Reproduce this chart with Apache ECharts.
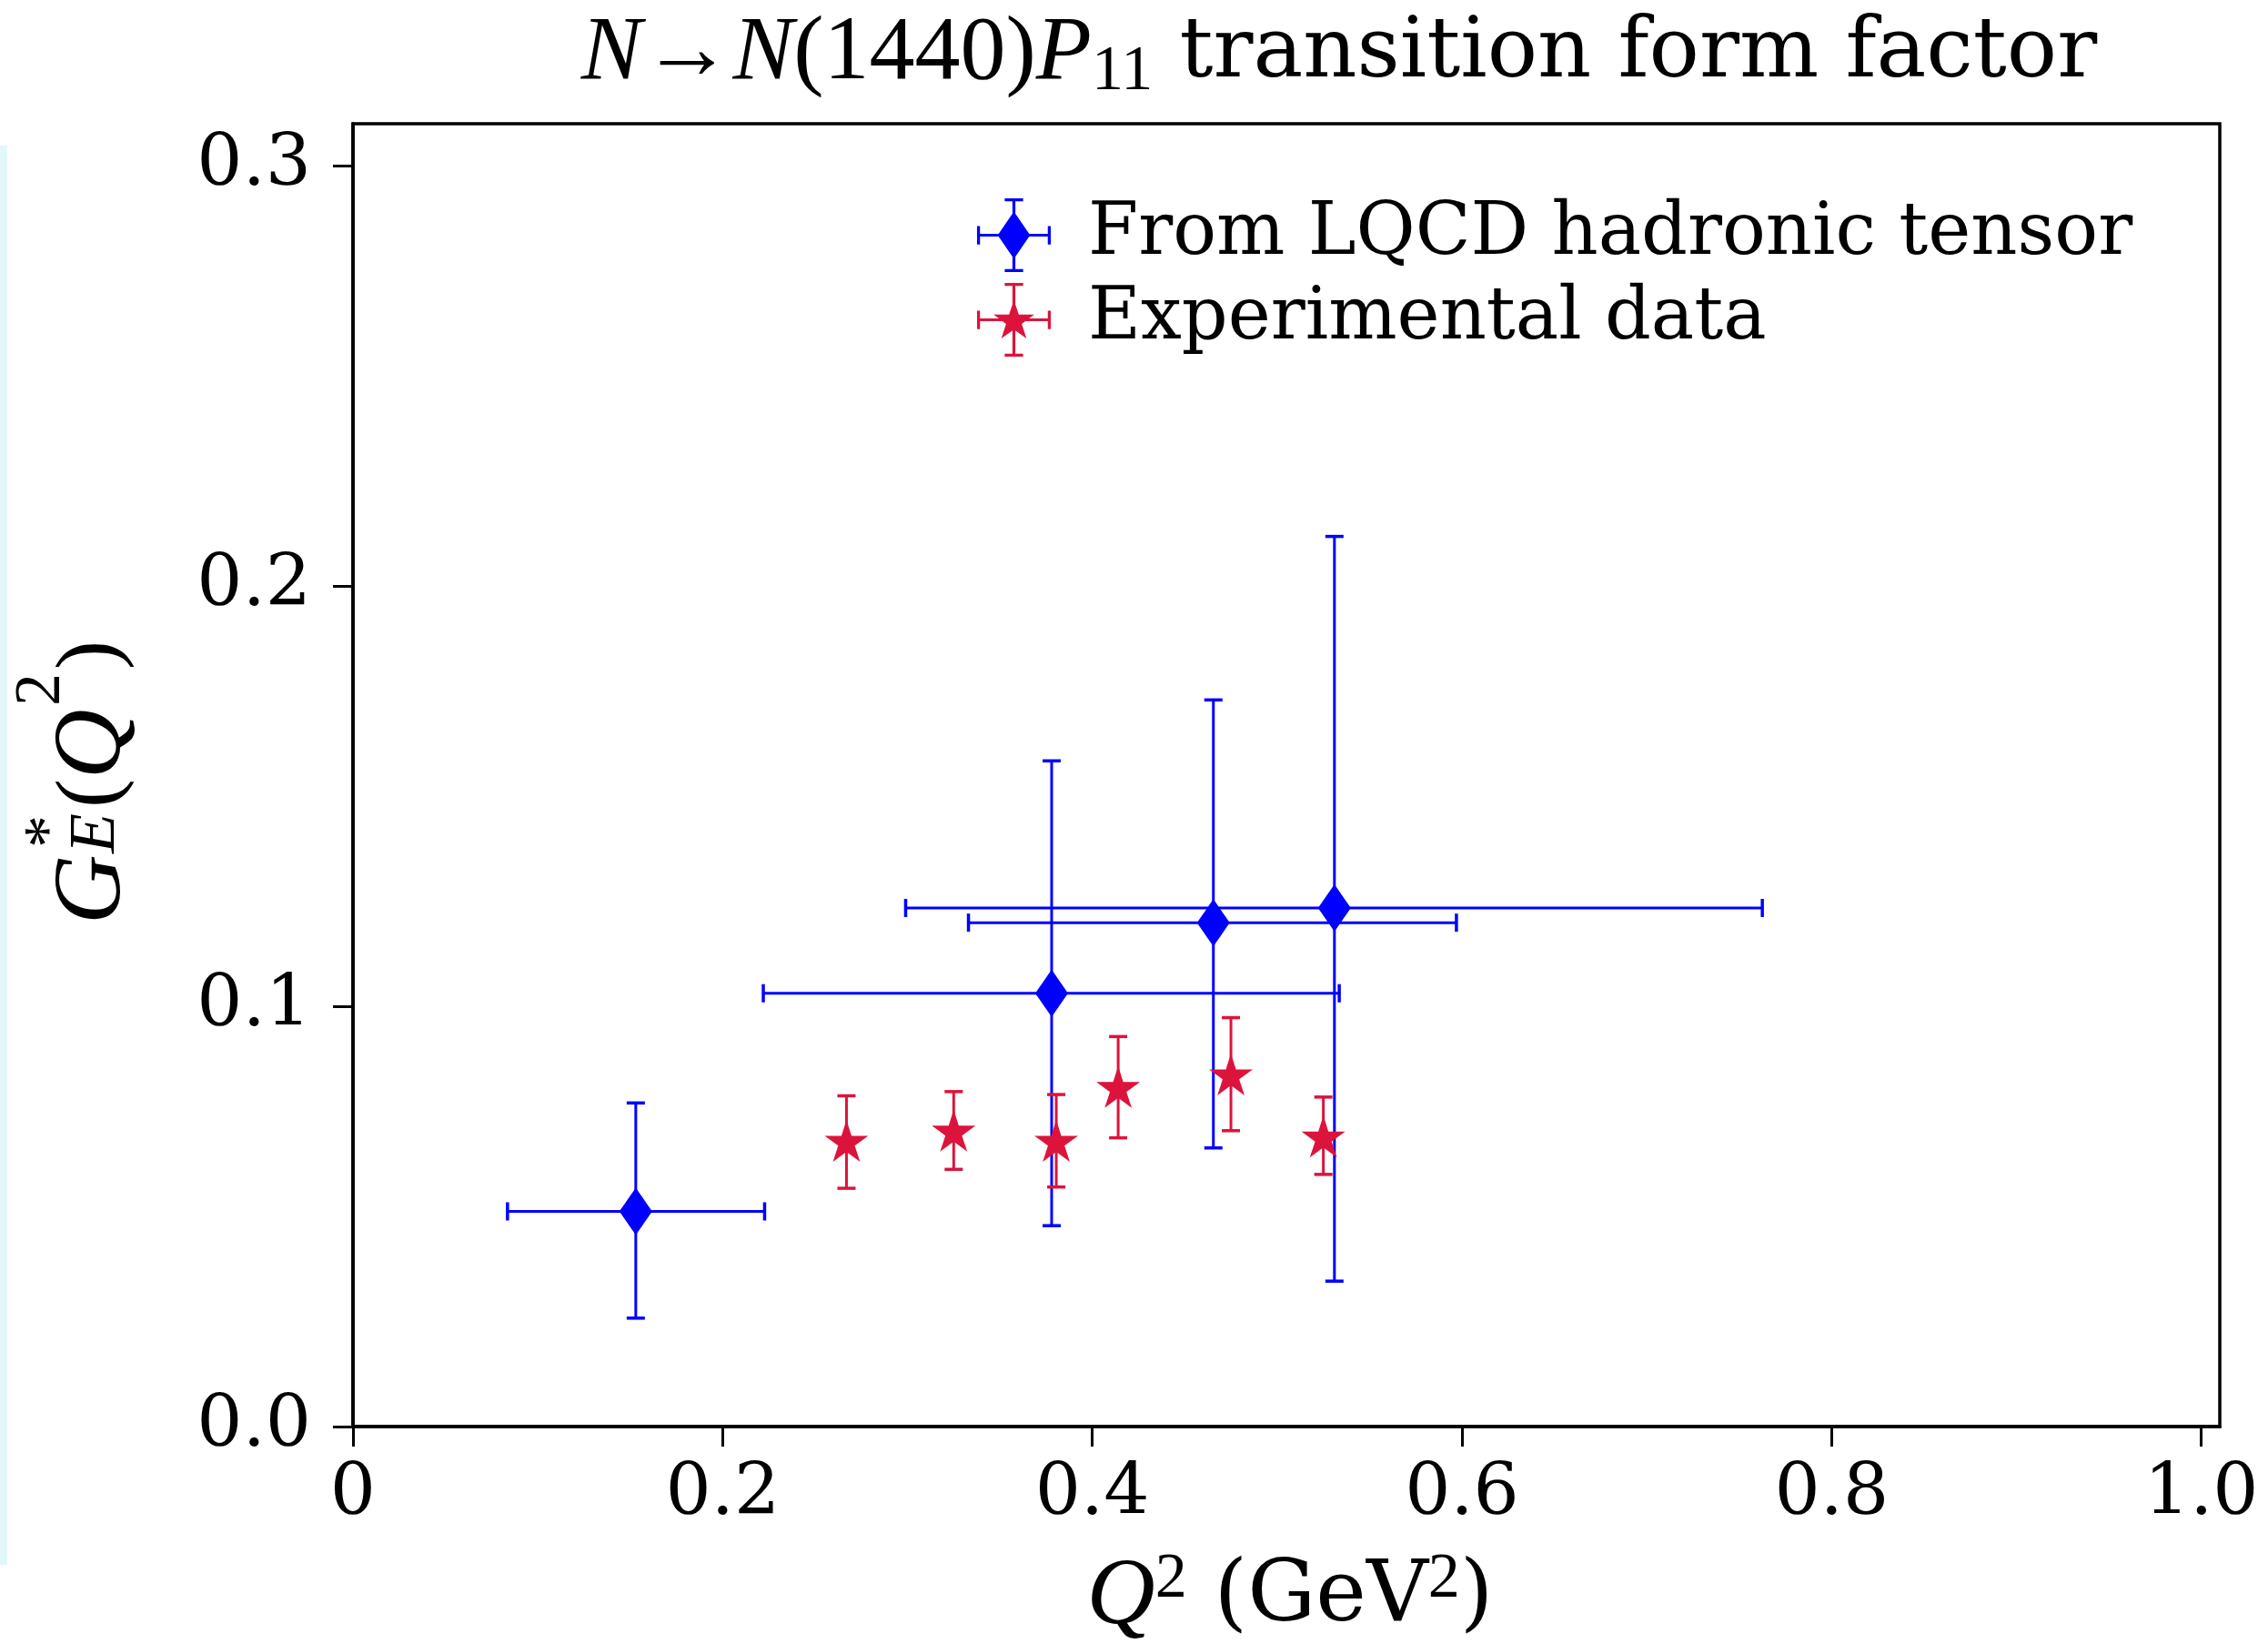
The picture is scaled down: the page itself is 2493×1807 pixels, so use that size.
<!DOCTYPE html>
<html><head><meta charset="utf-8">
<script src="https://cdn.jsdelivr.net/npm/echarts@6/dist/echarts.min.js"></script>
<style>html,body{margin:0;padding:0;background:#fff}#c{width:2493px;height:1807px}</style>
</head><body><div id="c"></div>
<script>
// ---- data ----
const xTicks = [0, 0.2, 0.4, 0.6, 0.8, 1.0];
const xTickLabels = ['0', '0.2', '0.4', '0.6', '0.8', '1.0'];
const yTicks = [0, 0.1, 0.2, 0.3];
const yTickLabels = ['0.0', '0.1', '0.2', '0.3'];

const seriesNames = ['From LQCD hadronic tensor', 'Experimental data'];

// LQCD hadronic tensor points
const lqcdQ2 = [0.153, 0.378, 0.4655, 0.531];
const lqcdG = [0.0512, 0.1031, 0.1199, 0.1234];
const lqcdQ2Low = [0.0836, 0.222, 0.333, 0.299];
const lqcdQ2High = [0.2227, 0.5336, 0.597, 0.7625];
const lqcdGLow = [0.0258, 0.0478, 0.0663, 0.0346];
const lqcdGHigh = [0.077, 0.1584, 0.1729, 0.2118];

// Experimental data points
const expQ2 = [0.267, 0.325, 0.3805, 0.414, 0.475, 0.525];
const expG = [0.068, 0.0704, 0.068, 0.0808, 0.0838, 0.069];
const expGLow = [0.0567, 0.0612, 0.057, 0.0687, 0.0704, 0.0600];
const expGHigh = [0.0787, 0.0797, 0.079, 0.0928, 0.0973, 0.0784];

// ---- styling ----
const BLUE = '#0000ff';
const RED = '#dc143c';
const SERIF = 'DejaVu Serif';
const MATH = 'Liberation Serif';

function starPath(cx, cy, R, r) {
  let d = '';
  for (let i = 0; i < 10; i++) {
    const rad = (i % 2 === 0) ? R : r;
    const a = -Math.PI / 2 + i * Math.PI / 5;
    const x = cx + rad * Math.cos(a), y = cy + rad * Math.sin(a);
    d += (i === 0 ? 'M' : 'L') + x.toFixed(2) + ' ' + y.toFixed(2) + ' ';
  }
  return d + 'Z ';
}
function rect(x0, y0, x1, y1) {
  return `M${x0} ${y0} L${x1} ${y0} L${x1} ${y1} L${x0} ${y1} Z `;
}
const crossPath = rect(0, 48, 100, 52) + rect(0, 37.5, 4, 62.5) + rect(96, 37.5, 100, 62.5) +
  rect(48, 0, 52, 100) + rect(37.5, 0, 62.5, 4) + rect(37.5, 96, 62.5, 100);
const legendBlueIcon = 'path://' + crossPath + 'M50 18 L72 50 L50 82 L28 50 Z';
const legendRedIcon = 'path://' + crossPath + starPath(50, 52, 29, 11.2);
const diamondSymbol = 'path://M0 -1 L0.6 0 L0 1 L-0.6 0 Z';
const starSymbol = 'path://' + starPath(0, 0, 1, 0.382);

function errBars(color) {
  return function (params, api) {
    const x = api.value(0), y = api.value(1);
    const xl = api.value(2), xh = api.value(3), yl = api.value(4), yh = api.value(5);
    const cap = 10;
    const st = { stroke: color, lineWidth: 3 };
    const cst = { stroke: color, lineWidth: 3.5 };
    const a = api.coord([x, yl]), b = api.coord([x, yh]);
    const c = api.coord([xl, y]), d = api.coord([xh, y]);
    const ch = [
      { type: 'line', shape: { x1: a[0], y1: a[1], x2: b[0], y2: b[1] }, style: st },
      { type: 'line', shape: { x1: a[0] - cap, y1: a[1], x2: a[0] + cap, y2: a[1] }, style: cst },
      { type: 'line', shape: { x1: b[0] - cap, y1: b[1], x2: b[0] + cap, y2: b[1] }, style: cst }
    ];
    if (xh > xl) {
      ch.push(
        { type: 'line', shape: { x1: c[0], y1: c[1], x2: d[0], y2: d[1] }, style: st },
        { type: 'line', shape: { x1: c[0], y1: c[1] - cap, x2: c[0], y2: c[1] + cap }, style: cst },
        { type: 'line', shape: { x1: d[0], y1: d[1] - cap, x2: d[0], y2: d[1] + cap }, style: cst }
      );
    }
    return { type: 'group', children: ch };
  };
}

const lqcdErr = lqcdQ2.map((q, i) => [q, lqcdG[i], lqcdQ2Low[i], lqcdQ2High[i], lqcdGLow[i], lqcdGHigh[i]]);
const expErr = expQ2.map((q, i) => [q, expG[i], q, q, expGLow[i], expGHigh[i]]);
const lqcdPts = lqcdQ2.map((q, i) => [q, lqcdG[i]]);
const expPts = expQ2.map((q, i) => [q, expG[i]]);

function tickLabel(ticks, labels) {
  return v => { const i = ticks.findIndex(t => Math.abs(t - v) < 1e-9); return i >= 0 ? labels[i] : ''; };
}

const chart = echarts.init(document.getElementById('c'), null, { renderer: 'canvas' });
const option = {
  backgroundColor: '#ffffff',
  animation: false,
  grid: { left: 388, right: 53, top: 136, bottom: 239, show: true, borderColor: '#000', borderWidth: 3.5, backgroundColor: 'transparent' },
  xAxis: {
    type: 'value', min: 0, max: 1.01, interval: 0.2,
    axisLine: { show: true, onZero: false, lineStyle: { color: '#000', width: 3.5 } },
    axisTick: { show: true, inside: false, length: 22, customValues: xTicks, lineStyle: { color: '#000', width: 3 } },
    axisLabel: { customValues: xTicks, formatter: tickLabel(xTicks, xTickLabels), fontFamily: SERIF, fontSize: 79, color: '#000', margin: 36 },
    splitLine: { show: false }
  },
  yAxis: {
    type: 'value', min: 0, max: 0.31, interval: 0.1,
    axisLine: { show: true, onZero: false, lineStyle: { color: '#000', width: 3.5 } },
    axisTick: { show: true, inside: false, length: 22, customValues: yTicks, lineStyle: { color: '#000', width: 3 } },
    axisLabel: { customValues: yTicks, formatter: tickLabel(yTicks, yTickLabels), fontFamily: SERIF, fontSize: 79, color: '#000', margin: 46 },
    splitLine: { show: false }
  },
  legend: {
    orient: 'vertical', left: 1069, top: 213,
    itemWidth: 81, itemHeight: 81, itemGap: 12,
    textStyle: { fontFamily: SERIF, fontSize: 79.5, color: '#000', padding: [0, 0, 0, 36] },
    data: [
      { name: seriesNames[0], icon: legendBlueIcon, itemStyle: { color: BLUE } },
      { name: seriesNames[1], icon: legendRedIcon, itemStyle: { color: RED } }
    ],
    selectedMode: false
  },
  series: [
    { name: seriesNames[0], type: 'custom', renderItem: errBars(BLUE), data: lqcdErr, encode: { x: 0, y: 1 }, z: 2, itemStyle: { color: BLUE } },
    { name: seriesNames[0], type: 'scatter', data: lqcdPts, symbol: diamondSymbol, symbolSize: [36, 52], itemStyle: { color: BLUE, opacity: 1 }, z: 3 },
    { name: seriesNames[1], type: 'custom', renderItem: errBars(RED), data: expErr, encode: { x: 0, y: 1 }, z: 4, itemStyle: { color: RED } },
    { name: seriesNames[1], type: 'scatter', data: expPts, symbol: starSymbol, symbolSize: [48, 46], itemStyle: { color: RED, opacity: 1 }, z: 5 }
  ],
  graphic: [
    { type: 'rect', left: 0, top: 160, shape: { width: 8, height: 1560 }, style: { fill: '#e3f7fa' }, silent: true },
    {
      type: 'text', x: 1472, y: 60,
      style: {
        text: '{m|N}{a|→}{m|N}{r|(1440)}{m|P}{s|11}{t| transition form factor}',
        align: 'center', verticalAlign: 'middle',
        rich: {
          m: { fontFamily: MATH, fontStyle: 'italic', fontSize: 100, lineHeight: 110, fill: '#000' },
          a: { fontFamily: MATH, fontSize: 100, lineHeight: 110, fill: '#000' },
          r: { fontFamily: MATH, fontSize: 100, lineHeight: 110, fill: '#000' },
          s: { fontFamily: MATH, fontSize: 70, lineHeight: 70, verticalAlign: 'bottom', fill: '#000' },
          t: { fontFamily: SERIF, fontSize: 92, lineHeight: 110, fill: '#000' }
        }
      }
    },
    {
      type: 'text', x: 1418, y: 1757,
      style: {
        text: '{m|Q}{p|2}{t| (GeV}{p|2}{t|)}',
        align: 'center', verticalAlign: 'middle',
        rich: {
          m: { fontFamily: MATH, fontStyle: 'italic', fontSize: 104, lineHeight: 110, fill: '#000' },
          p: { fontFamily: MATH, fontSize: 70, lineHeight: 58, verticalAlign: 'top', fill: '#000' },
          t: { fontFamily: SERIF, fontSize: 94, lineHeight: 110, fill: '#000' }
        }
      }
    },
    {
      type: 'group', x: 50, y: 858, rotation: Math.PI / 2,
      children: [
        { type: 'text', x: -158, y: 0, style: { text: 'G', fontFamily: MATH, fontStyle: 'italic', fontSize: 106, fill: '#000', verticalAlign: 'alphabetic' } },
        { type: 'text', x: -74, y: -30, style: { text: '*', fontFamily: MATH, fontSize: 72, fill: '#000', verticalAlign: 'alphabetic' } },
        { type: 'text', x: -80, y: 20, style: { text: 'E', fontFamily: MATH, fontStyle: 'italic', fontSize: 72, fill: '#000', verticalAlign: 'alphabetic' } },
        { type: 'text', x: -30, y: 4, style: { text: '(', fontFamily: MATH, fontSize: 96, fill: '#000', verticalAlign: 'alphabetic' } },
        { type: 'text', x: 2, y: 0, style: { text: 'Q', fontFamily: MATH, fontStyle: 'italic', fontSize: 106, fill: '#000', verticalAlign: 'alphabetic' } },
        { type: 'text', x: 82, y: -40, style: { text: '2', fontFamily: MATH, fontSize: 72, fill: '#000', verticalAlign: 'alphabetic' } },
        { type: 'text', x: 122, y: 4, style: { text: ')', fontFamily: MATH, fontSize: 96, fill: '#000', verticalAlign: 'alphabetic' } }
      ]
    }
  ]
};
chart.setOption(option);
</script>
</body></html>
